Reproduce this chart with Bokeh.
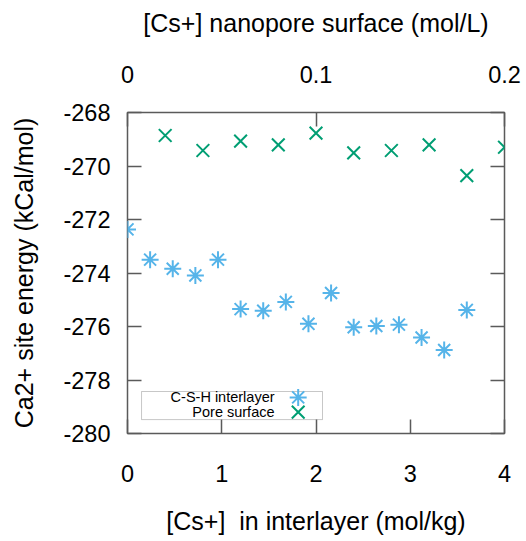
from bokeh.plotting import figure
from bokeh.models import LinearAxis, Range1d, FixedTicker, BoxAnnotation, Label
from bokeh.embed import file_html
from bokeh.resources import INLINE

# Ca2+ site energy against Cs+ loading in the C-S-H interlayer (bottom axis)
interlayer_conc = [0.00, 0.24, 0.48, 0.72, 0.96, 1.20, 1.44, 1.68,
                   1.92, 2.16, 2.40, 2.64, 2.88, 3.12, 3.36, 3.60]
interlayer_energy = [-272.37, -273.50, -273.84, -274.09, -273.50, -275.35,
                     -275.41, -275.08, -275.90, -274.75, -276.03, -275.98,
                     -275.93, -276.41, -276.88, -275.38]

# Ca2+ site energy against Cs+ concentration at the pore surface (top axis)
pore_conc = [0.02, 0.04, 0.06, 0.08, 0.10, 0.12, 0.14, 0.16, 0.18, 0.20]
pore_energy = [-268.86, -269.42, -269.07, -269.21, -268.77, -269.51,
               -269.42, -269.21, -270.36, -269.30]

series_names = ["C-S-H interlayer", "Pore surface"]

bottom_ticks = [0, 1, 2, 3, 4]
bottom_tick_labels = ["0", "1", "2", "3", "4"]
top_ticks = [0, 0.1, 0.2]
top_tick_labels = ["0", "0.1", "0.2"]
y_ticks = [-280, -278, -276, -274, -272, -270, -268]
y_tick_labels = ["-280", "-278", "-276", "-274", "-272", "-270", "-268"]

FONT = "Liberation Sans"
BLUE = "#56B4E9"
GREEN = "#009E73"
FRAME = "#5a5a5a"
TICK_SIZE = "23.5px"
TITLE_SIZE = "25px"

p = figure(width=526, height=541, x_range=Range1d(0, 4), y_range=Range1d(-280, -268),
           output_backend="svg", toolbar_location=None,
           x_axis_location=None, y_axis_location=None)
p.min_border = 0
p.min_border_left = 127
p.min_border_right = 22
p.min_border_top = 112
p.min_border_bottom = 108
p.grid.visible = False
p.outline_line_color = FRAME
p.outline_line_width = 1.5
p.background_fill_color = "white"
p.border_fill_color = "white"

p.extra_x_ranges = {"pore": Range1d(0, 0.2)}

bottom_axis = LinearAxis(axis_label="[Cs+]\u00a0 in interlayer (mol/kg)",
                         ticker=FixedTicker(ticks=bottom_ticks),
                         major_label_overrides=dict(zip(bottom_ticks, bottom_tick_labels)))
left_axis = LinearAxis(axis_label="Ca2+ site energy (kCal/mol)",
                       ticker=FixedTicker(ticks=y_ticks),
                       major_label_overrides=dict(zip(y_ticks, y_tick_labels)))
top_axis = LinearAxis(x_range_name="pore", axis_label="[Cs+] nanopore surface (mol/L)",
                      ticker=FixedTicker(ticks=top_ticks),
                      major_label_overrides=dict(zip(top_ticks, top_tick_labels)))
right_axis = LinearAxis(ticker=FixedTicker(ticks=y_ticks))

p.add_layout(bottom_axis, "below")
p.add_layout(left_axis, "left")
p.add_layout(top_axis, "above")
p.add_layout(right_axis, "right")

for ax in (bottom_axis, left_axis, top_axis, right_axis):
    ax.axis_line_color = None
    ax.major_tick_in = 14
    ax.major_tick_out = 0
    ax.major_tick_line_color = FRAME
    ax.major_tick_line_width = 1.5
    ax.minor_tick_line_color = None
    ax.major_label_text_font = FONT
    ax.major_label_text_font_size = TICK_SIZE
    ax.major_label_text_color = "black"
    ax.axis_label_text_font = FONT
    ax.axis_label_text_font_size = TITLE_SIZE
    ax.axis_label_text_font_style = "normal"
    ax.axis_label_text_color = "black"

# the right side only mirrors the tick marks
right_axis.major_label_text_alpha = 0
right_axis.major_label_standoff = 0
right_axis.major_label_text_font_size = "1px"

bottom_axis.major_label_standoff = 31
bottom_axis.axis_label_standoff = 22
top_axis.major_label_standoff = 30
top_axis.axis_label_standoff = 26
left_axis.major_label_standoff = 17
left_axis.axis_label_standoff = 22

# key box in the lower left corner, text right-aligned with the symbol after it
p.add_layout(BoxAnnotation(left=0.149, right=2.069, top=-278.43, bottom=-279.48,
                           fill_color="white", fill_alpha=1.0,
                           line_color="#444444", line_width=1, level="underlay"))

p.scatter(interlayer_conc, interlayer_energy, marker="asterisk", size=17,
          line_color=BLUE, line_width=2)
p.scatter(pore_conc, pore_energy, marker="x", size=18, x_range_name="pore",
          line_color=GREEN, line_width=2)

key_rows = [-278.65, -279.20]
for name, ky in zip(series_names, key_rows):
    p.add_layout(Label(x=1.56, y=ky, text=name, text_align="right", text_baseline="middle",
                       text_font=FONT, text_font_size="14.5px", text_color="black"))
key_x = [1.811]
p.scatter(key_x, [key_rows[0]], marker="asterisk", size=17, line_color=BLUE, line_width=2)
p.scatter(key_x, [key_rows[1]], marker="x", size=18, line_color=GREEN, line_width=2)

open("out.html", "w").write(file_html(p, INLINE))
